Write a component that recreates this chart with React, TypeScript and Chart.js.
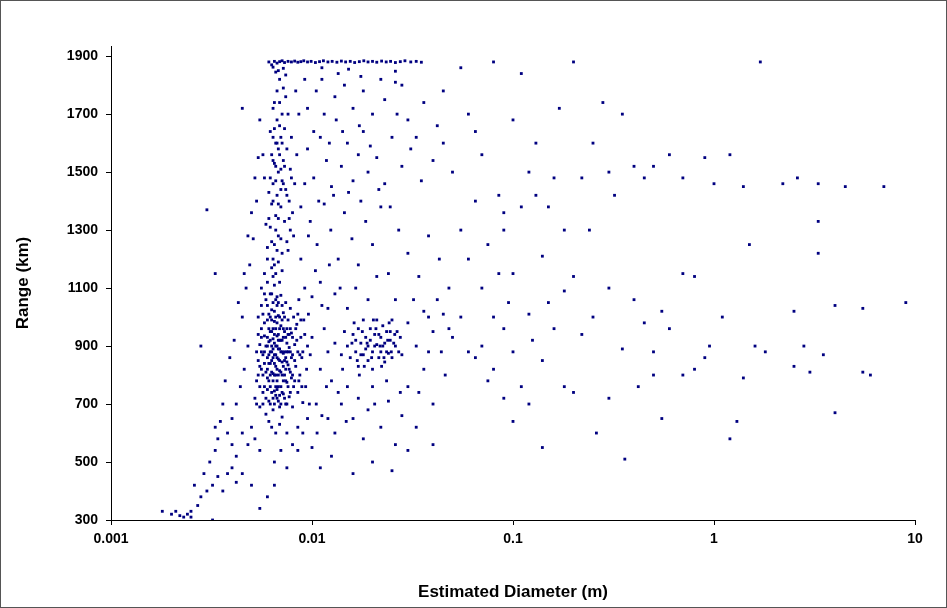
import React, { useEffect, useRef } from "react";
import { Chart, registerables } from "chart.js";
Chart.register(...registerables);

type P = [number, number];

const xTickValues = [0.001, 0.01, 0.1, 1, 10];
const yTickValues = [300, 500, 700, 900, 1100, 1300, 1500, 1700, 1900];

// top ceiling band near 1880 km
const ceiling: P[] = [
  [0.0061,1880],[0.0063,1870],[0.0065,1882],[0.0067,1876],[0.0069,1881],[0.0071,1884],[0.0073,1878],[0.0076,1882],
  [0.0079,1880],[0.0082,1883],[0.0085,1879],[0.0088,1881],[0.0091,1884],[0.0095,1880],[0.0099,1882],[0.0104,1878],
  [0.0109,1881],[0.0114,1884],[0.012,1880],[0.0126,1882],[0.0133,1879],[0.014,1883],[0.0147,1880],[0.0155,1882],
  [0.0163,1878],[0.0172,1881],[0.0181,1884],[0.019,1880],[0.02,1882],[0.021,1879],[0.0222,1883],[0.0234,1880],
  [0.0246,1882],[0.026,1878],[0.0275,1881],[0.029,1884],[0.031,1880],[0.033,1882],[0.035,1879],[0.0064,1862],
  [0.0068,1850],[0.0072,1858],[0.0085,1940],[0.0066,1845],[0.0074,1835],[0.0112,1860],[0.0152,1855],[0.026,1848],
];

// main dense cluster d 0.005-0.009, r 650-1100
const core: P[] = [
  [0.0052,720],[0.0053,780],[0.0054,850],[0.0055,905],[0.0055,690],[0.0056,960],[0.0056,820],[0.0057,1010],
  [0.0057,740],[0.0058,880],[0.0058,935],[0.0059,665],[0.0059,1060],[0.006,790],[0.006,860],[0.006,990],
  [0.0061,710],[0.0061,915],[0.0062,840],[0.0062,1080],[0.0062,760],[0.0063,950],[0.0063,880],[0.0063,1025],
  [0.0064,680],[0.0064,805],[0.0064,925],[0.0065,745],[0.0065,870],[0.0065,985],[0.0065,1110],[0.0066,830],
  [0.0066,900],[0.0066,960],[0.0067,720],[0.0067,1040],[0.0067,780],[0.0068,855],[0.0068,940],[0.0068,1005],
  [0.0069,690],[0.0069,815],[0.0069,890],[0.007,760],[0.007,970],[0.007,1075],[0.0071,845],[0.0071,920],
  [0.0071,655],[0.0072,735],[0.0072,1015],[0.0072,875],[0.0073,800],[0.0073,950],[0.0074,700],[0.0074,860],
  [0.0074,1050],[0.0075,910],[0.0075,775],[0.0076,990],[0.0076,835],[0.0077,725],[0.0077,895],[0.0078,1030],
  [0.0078,810],[0.0079,945],[0.008,870],[0.008,690],[0.0081,760],[0.0081,1000],[0.0082,905],[0.0083,830],
  [0.0084,975],[0.0085,740],[0.0085,880],[0.0086,1060],[0.0087,800],[0.0088,930],[0.0089,860],[0.009,705],
  [0.0054,1000],[0.0056,1100],[0.0058,1150],[0.006,1200],[0.0061,640],[0.0063,620],[0.0066,600],[0.0069,630],
  [0.0064,860],[0.0065,910],[0.0066,870],[0.0067,935],[0.0068,890],[0.0063,900],[0.0062,950],[0.0061,870],
  [0.0067,820],[0.0069,960],[0.0071,990],[0.0073,880],[0.0075,845],[0.0064,780],[0.0066,760],[0.0068,710],
  [0.0065,1020],[0.0067,1070],[0.0069,1120],[0.0071,1160],[0.006,930],[0.0059,810],[0.0057,870],[0.0058,760],
  [0.0076,940],[0.0078,880],[0.0079,790],[0.0082,850],[0.0084,920],[0.0086,780],[0.0088,990],[0.009,880],
  [0.0092,940],[0.0094,820],[0.0096,1010],[0.0098,870],[0.0093,760],[0.0097,700],[0.0062,1000],[0.0064,1140],
];

// extra fill of the dense core
const coreFill: P[] = [
  [0.0055,760],[0.0055,830],[0.0056,880],[0.0056,930],[0.0057,700],[0.0057,800],[0.0058,840],[0.0058,980],
  [0.0059,720],[0.0059,900],[0.006,750],[0.006,820],[0.006,900],[0.006,1040],[0.0061,780],[0.0061,840],
  [0.0061,960],[0.0061,1010],[0.0062,700],[0.0062,800],[0.0062,880],[0.0062,920],[0.0063,740],[0.0063,810],
  [0.0063,850],[0.0063,990],[0.0064,720],[0.0064,890],[0.0064,960],[0.0064,1050],[0.0065,700],[0.0065,800],
  [0.0065,840],[0.0065,940],[0.0066,730],[0.0066,800],[0.0066,1000],[0.0066,1060],[0.0067,750],[0.0067,860],
  [0.0067,900],[0.0067,980],[0.0068,760],[0.0068,800],[0.0068,920],[0.0068,1050],[0.0069,730],[0.0069,850],
  [0.0069,920],[0.0069,1000],[0.007,700],[0.007,810],[0.007,880],[0.007,920],[0.0071,740],[0.0071,800],
  [0.0071,880],[0.0071,1040],[0.0072,780],[0.0072,830],[0.0072,930],[0.0072,960],[0.0073,720],[0.0073,850],
  [0.0073,1000],[0.0074,780],[0.0074,820],[0.0074,930],[0.0075,700],[0.0075,880],[0.0075,960],[0.0076,760],
  [0.0076,880],[0.0077,820],[0.0077,940],[0.0078,740],[0.0078,960],[0.0079,860],[0.008,800],[0.008,930],
  [0.0053,880],[0.0054,940],[0.0054,800],[0.0053,700],[0.0056,1040],[0.0058,1080],[0.006,1120],[0.0063,1080],
  [0.0082,780],[0.0083,960],[0.0085,1010],[0.0087,870],[0.0089,760],[0.0091,990],[0.0095,900],[0.01,930],
];

// column above the core d 0.006-0.008, r 1100-1860
const column: P[] = [
  [0.006,1240],[0.0062,1310],[0.0063,1390],[0.0064,1460],[0.0065,1530],[0.0065,1250],[0.0066,1600],[0.0066,1350],
  [0.0067,1420],[0.0067,1680],[0.0068,1500],[0.0068,1280],[0.0069,1560],[0.0069,1740],[0.007,1380],[0.007,1620],
  [0.0071,1470],[0.0071,1220],[0.0072,1540],[0.0072,1790],[0.0073,1330],[0.0073,1650],[0.0074,1440],[0.0075,1580],
  [0.0075,1260],[0.0076,1700],[0.0077,1400],[0.0078,1510],[0.0079,1620],[0.008,1360],[0.0061,1430],[0.0063,1560],
  [0.0064,1200],[0.0066,1470],[0.0068,1390],[0.007,1510],[0.0065,1650],[0.0067,1780],[0.0069,1820],[0.0071,1700],
  [0.0062,1640],[0.0064,1720],[0.0063,1170],[0.0066,1150],[0.0068,1190],[0.0059,1320],[0.0058,1480],[0.0057,1560],
  [0.0074,1760],[0.0076,1230],[0.0078,1300],[0.0082,1460],[0.0084,1560],[0.0086,1700],[0.0088,1380],[0.0083,1780],
  [0.0062,1480],[0.0064,1540],[0.0066,1520],[0.0068,1580],[0.007,1440],[0.0072,1460],[0.0064,1400],[0.0066,1300],
  [0.0068,1340],[0.007,1270],[0.0065,1180],[0.0067,1230],[0.0063,1260],[0.0061,1340],[0.0069,1660],[0.0071,1600],
  [0.0073,1520],[0.0075,1420],[0.0077,1340],[0.0079,1480],[0.0081,1280],[0.0065,1740],[0.0067,1600],[0.0064,1620],
];

// second cluster d 0.015-0.028, r 820-1000
const cluster2: P[] = [
  [0.015,900],[0.0155,860],[0.016,940],[0.0165,880],[0.017,960],[0.017,830],[0.0175,910],[0.018,870],
  [0.018,990],[0.0185,930],[0.019,850],[0.019,900],[0.0195,960],[0.02,880],[0.02,820],[0.0205,940],
  [0.021,905],[0.021,990],[0.0215,860],[0.022,930],[0.022,880],[0.0225,970],[0.023,845],[0.023,910],
  [0.0235,950],[0.024,875],[0.0245,920],[0.025,990],[0.025,860],[0.026,900],[0.0265,950],[0.027,880],
  [0.0275,930],[0.028,870],[0.0165,920],[0.0175,870],[0.0185,890],[0.0195,920],[0.0205,900],[0.0215,940],
  [0.0225,900],[0.0235,880],[0.0245,950],[0.0255,910],[0.014,870],[0.0145,950],[0.013,910],[0.012,880],
  [0.0158,910],[0.0168,850],[0.0178,950],[0.0188,910],[0.0198,860],[0.0208,960],[0.0218,900],[0.0228,860],
  [0.0238,920],[0.0248,880],[0.0258,940],[0.0162,980],[0.0182,830],[0.0202,990],[0.0222,830],[0.0242,980],
];

// scattered middle region d 0.003-0.05, r 350-1900
const spread: P[] = [
  [0.0095,1580],[0.0102,1480],[0.011,1620],[0.0118,1540],[0.0125,1450],[0.0132,1680],[0.014,1520],[0.015,1600],
  [0.016,1470],[0.017,1560],[0.018,1640],[0.019,1500],[0.021,1550],[0.023,1460],[0.025,1620],[0.028,1520],
  [0.031,1580],[0.035,1470],[0.04,1540],[0.045,1600],[0.05,1500],[0.0098,1330],[0.0106,1250],[0.0115,1390],
  [0.0124,1300],[0.0135,1200],[0.0145,1360],[0.0158,1270],[0.017,1180],[0.0185,1330],[0.02,1250],[0.022,1380],
  [0.024,1150],[0.027,1300],[0.03,1220],[0.034,1140],[0.038,1280],[0.043,1200],[0.048,1100],[0.0095,1720],
  [0.0105,1780],[0.0115,1700],[0.013,1760],[0.0145,1800],[0.016,1720],[0.018,1780],[0.02,1700],[0.023,1750],
  [0.026,1810],[0.03,1680],[0.036,1740],[0.042,1660],[0.01,1070],[0.011,1120],[0.0115,960],[0.012,1030],
  [0.0125,780],[0.013,1080],[0.0135,740],[0.011,820],[0.0105,700],[0.012,650],[0.013,600],[0.014,700],
  [0.015,760],[0.016,650],[0.017,720],[0.018,580],[0.019,680],[0.02,760],[0.022,620],[0.024,710],
  [0.026,560],[0.028,660],[0.03,760],[0.033,620],[0.036,820],[0.04,700],[0.044,880],[0.048,960],
  [0.03,980],[0.033,900],[0.036,1020],[0.04,950],[0.045,1010],[0.05,930],[0.055,1000],[0.06,880],
  [0.01,550],[0.011,480],[0.0125,520],[0.016,460],[0.02,500],[0.025,470],[0.03,540],[0.04,560],
  [0.0048,900],[0.0046,820],[0.0044,760],[0.0042,700],[0.004,650],[0.0045,1000],[0.0047,1100],[0.0049,1180],
  [0.0051,1270],[0.0053,1400],[0.0054,1550],[0.0055,1680],[0.0052,1480],[0.005,1360],[0.0048,1280],[0.0046,1150],
  [0.0043,1050],[0.0041,920],[0.0039,860],[0.0037,780],[0.0036,700],[0.0035,640],[0.0034,580],[0.0033,540],
  [0.0038,600],[0.004,560],[0.0042,520],[0.0045,600],[0.0048,560],[0.005,620],[0.0052,580],[0.0055,540],
  [0.0034,450],[0.0032,420],[0.003,400],[0.0028,380],[0.0027,350],[0.0025,330],[0.0024,320],[0.0022,315],
  [0.0036,400],[0.0038,460],[0.004,480],[0.0042,430],[0.0045,460],[0.005,420],[0.0026,420],[0.0029,460],
  [0.0031,500],[0.0033,620],[0.003,1370],[0.0033,1150],[0.0045,1720],[0.0023,310],[0.002,320],[0.0018,330],
  [0.0021,330],[0.0025,310],[0.0028,900],[0.0032,300],[0.0055,340],[0.006,380],[0.0065,420],[0.0075,480],
  [0.0085,540],[0.009,600],[0.0095,650],[0.0085,620],[0.008,560],[0.0075,600],[0.007,540],[0.0065,500],
  [0.0088,1200],[0.0092,1100],[0.0096,1280],[0.0104,1160],[0.0112,1040],[0.0122,1180],[0.0138,1100],[0.015,1030],
  [0.0165,1100],[0.019,1060],[0.021,1140],[0.026,1060],[0.032,1060],[0.038,1000],[0.09,1360],[0.0108,1400],
  [0.0128,1420],[0.0152,1430],[0.0175,1400],[0.0215,1440],[0.0245,1380],[0.0092,1460],[0.0102,1640],[0.0122,1600],
  [0.0142,1640],[0.0172,1660],[0.0195,1590],[0.0265,1700],[0.033,1620],[0.0112,1820],[0.0135,1840],[0.0175,1830],
  [0.022,1820],[0.028,1800],[0.0092,1820],[0.0106,600],[0.0118,760],[0.0142,820],[0.0148,640],[0.0172,800],
  [0.0205,700],[0.0235,780],[0.0275,740],[0.034,740],[0.038,880],[0.042,1060],[0.046,800],[0.0112,660],
];

// sparse large-diameter region
const sparse: P[] = [
  [0.06,1700],[0.07,1560],[0.08,1880],[0.085,1420],[0.09,1300],[0.1,1680],[0.11,1840],[0.12,1500],
  [0.13,1420],[0.14,1210],[0.15,1050],[0.16,1480],[0.18,1300],[0.2,1880],[0.22,1480],[0.25,1600],
  [0.28,1740],[0.3,1500],[0.35,1700],[0.4,1520],[0.45,1480],[0.5,1520],[0.6,1560],[0.7,1480],
  [0.9,1550],[1.0,1460],[1.2,1560],[1.4,1450],[1.7,1880],[2.2,1460],[2.6,1480],[3.3,1460],
  [4.5,1450],[7.0,1450],[0.06,1200],[0.07,1100],[0.08,1000],[0.09,960],[0.1,1150],[0.12,1010],
  [0.14,850],[0.16,960],[0.18,1090],[0.2,1140],[0.25,1000],[0.3,1100],[0.4,1060],[0.45,980],
  [0.55,1020],[0.7,1150],[0.8,1140],[1.1,1000],[1.5,1250],[2.5,1020],[3.3,1220],[3.3,1330],
  [4.0,1040],[5.5,1030],[9.0,1050],[0.065,860],[0.075,780],[0.09,720],[0.1,640],[0.12,700],
  [0.14,550],[0.18,760],[0.2,740],[0.26,600],[0.3,720],[0.36,510],[0.42,760],[0.5,800],
  [0.55,650],[0.7,800],[0.8,820],[0.95,900],[1.2,580],[1.3,640],[1.4,790],[1.8,880],
  [2.5,830],[2.8,900],[3.0,810],[3.5,870],[4.0,670],[5.5,810],[6.0,800],[0.5,880],
  [0.6,960],[0.9,860],[1.6,900],[0.35,890],[0.22,940],[0.045,1780],[0.055,1860],[0.065,1640],
  [0.055,1300],[0.065,1400],[0.075,1250],[0.085,1150],[0.095,1050],[0.11,1380],[0.13,1600],[0.15,1380],
  [0.17,1720],[0.24,1300],[0.32,1420],[0.07,900],[0.08,820],[0.1,880],[0.11,760],[0.125,920],
];

const all: P[] = [...ceiling, ...core, ...coreFill, ...column, ...cluster2, ...spread, ...sparse];

export default function App() {
  const ref = useRef<HTMLCanvasElement>(null);
  useEffect(() => {
    if (!ref.current) return;
    const tickFont = { family: "Arial, 'Liberation Sans'", size: 14, weight: "bold" as const };
    const titleFont = { family: "Arial, 'Liberation Sans'", size: 17, weight: "bold" as const };
    const chart = new Chart(ref.current, {
      type: "scatter",
      data: {
        datasets: [{
          data: all.map(([x, y]) => ({ x, y })),
          backgroundColor: "#000080",
          borderColor: "#000080",
          pointStyle: "rect",
          pointRadius: 2,
          borderWidth: 0,
        }],
      },
      options: {
        animation: false,
        responsive: false,
        layout: { padding: { left: 0, right: 31, top: 45, bottom: 0 } },
        plugins: { legend: { display: false }, tooltip: { enabled: false } },
        scales: {
          x: {
            type: "logarithmic",
            min: 0.001,
            max: 10,
            afterBuildTicks: (s: any) => { s.ticks = xTickValues.map((v) => ({ value: v })); },
            afterFit: (s: any) => { s.height = 87; },
            ticks: { color: "#000", font: tickFont, padding: 6, callback: (v: any) => String(v) },
            grid: { drawOnChartArea: false, color: "#000", tickLength: 5 },
            border: { color: "#000", width: 1 },
            title: { display: true, text: "Estimated Diameter (m)", color: "#000", font: titleFont, padding: { top: 4 } },
          },
          y: {
            min: 300,
            max: 1935,
            afterBuildTicks: (s: any) => { s.ticks = yTickValues.map((v) => ({ value: v })); },
            afterFit: (s: any) => { s.width = 110; },
            ticks: { color: "#000", font: tickFont, padding: 8, callback: (v: any) => String(v) },
            grid: { drawOnChartArea: false, color: "#000", tickLength: 5 },
            border: { color: "#000", width: 1 },
            title: { display: true, text: "Range (km)", color: "#000", font: titleFont, padding: { top: 12, bottom: 8 } },
          },
        },
      },
    });
    return () => chart.destroy();
  }, []);
  return (
    <div style={{ position: "absolute", left: 0, top: 0, width: 947, height: 608, boxSizing: "border-box", border: "1px solid #555", background: "#fff" }}>
      <canvas ref={ref} width={945} height={606} style={{ display: "block" }} />
    </div>
  );
}
